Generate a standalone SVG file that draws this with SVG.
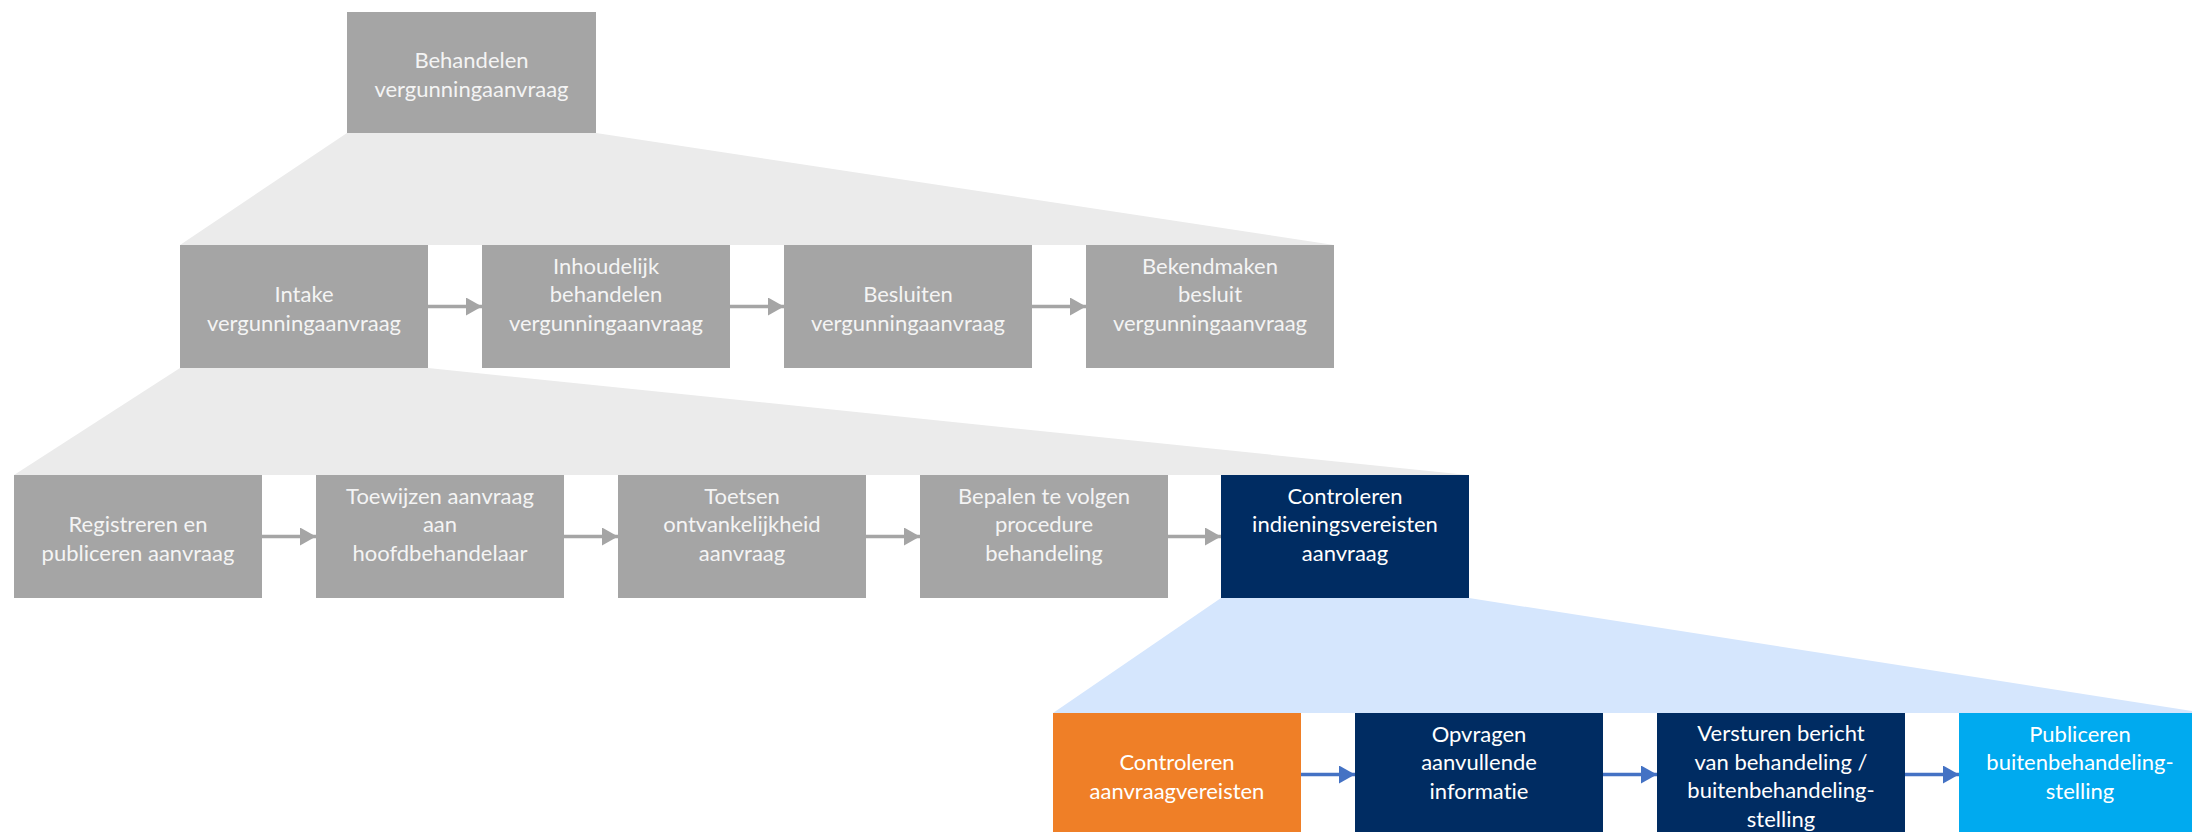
<svg xmlns="http://www.w3.org/2000/svg" width="2192" height="832" viewBox="0 0 2192 832">
<defs>
<style>
.g{fill:#A5A5A5}
.n{fill:#002C62}
.o{fill:#EF7F27}
.c{fill:#00AAEF}
.t{font-family:Lato,"Open Sans",sans-serif;font-size:22px;fill:#FFFFFF;text-anchor:middle;font-variant-ligatures:none}
.tg{fill:#F4F4F4}
.zg{fill:#EBEBEB}
.zb{fill:#D5E6FD}
.ag{stroke:#A5A5A5;stroke-width:3.5;fill:none}
.ab{stroke:#4472C4;stroke-width:3.5;fill:none}
</style>
<marker id="mg" markerUnits="userSpaceOnUse" markerWidth="16" markerHeight="18" refX="16" refY="9" orient="auto"><path d="M0,0 L16,9 L0,18 Z" fill="#A5A5A5"/></marker>
<marker id="mb" markerUnits="userSpaceOnUse" markerWidth="16" markerHeight="18" refX="16" refY="9" orient="auto"><path d="M0,0 L16,9 L0,18 Z" fill="#4472C4"/></marker>
</defs>
<rect width="2192" height="832" fill="#FFFFFF"/>
<g id="zoom-areas">
<polygon class="zg" points="347,133 596,133 1334,245 180,245"/>
<polygon class="zg" points="180,368 428,368 1468,475 14,475"/>
<polygon class="zb" points="1221,598 1469,598 2192,711 2192,713 1053,713"/>
</g>
<g id="n-behandelen"><rect class="g" x="347" y="12" width="249" height="121"/><text class="t tg"><tspan x="471.5" y="68">Behandelen</tspan><tspan x="471.5" y="96.5">vergunningaanvraag</tspan></text></g>
<g id="n-intake"><rect class="g" x="180" y="245" width="248" height="123"/><text class="t tg"><tspan x="304" y="302">Intake</tspan><tspan x="304" y="330.5">vergunningaanvraag</tspan></text></g>
<g id="n-inhoudelijk"><rect class="g" x="482" y="245" width="248" height="123"/><text class="t tg"><tspan x="606" y="273.5">Inhoudelijk</tspan><tspan x="606" y="302">behandelen</tspan><tspan x="606" y="330.5">vergunningaanvraag</tspan></text></g>
<g id="n-besluiten"><rect class="g" x="784" y="245" width="248" height="123"/><text class="t tg"><tspan x="908" y="302">Besluiten</tspan><tspan x="908" y="330.5">vergunningaanvraag</tspan></text></g>
<g id="n-bekendmaken"><rect class="g" x="1086" y="245" width="248" height="123"/><text class="t tg"><tspan x="1210" y="273.5">Bekendmaken</tspan><tspan x="1210" y="302">besluit</tspan><tspan x="1210" y="330.5">vergunningaanvraag</tspan></text></g>
<g id="n-registreren"><rect class="g" x="14" y="475" width="248" height="123"/><text class="t tg"><tspan x="138" y="532">Registreren en</tspan><tspan x="138" y="560.5">publiceren aanvraag</tspan></text></g>
<g id="n-toewijzen"><rect class="g" x="316" y="475" width="248" height="123"/><text class="t tg"><tspan x="440" y="503.5">Toewijzen aanvraag</tspan><tspan x="440" y="532">aan</tspan><tspan x="440" y="560.5">hoofdbehandelaar</tspan></text></g>
<g id="n-toetsen"><rect class="g" x="618" y="475" width="248" height="123"/><text class="t tg"><tspan x="742" y="503.5">Toetsen</tspan><tspan x="742" y="532">ontvankelijkheid</tspan><tspan x="742" y="560.5">aanvraag</tspan></text></g>
<g id="n-bepalen"><rect class="g" x="920" y="475" width="248" height="123"/><text class="t tg"><tspan x="1044" y="503.5">Bepalen te volgen</tspan><tspan x="1044" y="532">procedure</tspan><tspan x="1044" y="560.5">behandeling</tspan></text></g>
<g id="n-controleren-indiening"><rect class="n" x="1221" y="475" width="248" height="123"/><text class="t"><tspan x="1345" y="503.5">Controleren</tspan><tspan x="1345" y="532">indieningsvereisten</tspan><tspan x="1345" y="560.5">aanvraag</tspan></text></g>
<g id="n-controleren-aanvraag"><rect class="o" x="1053" y="713" width="248" height="123"/><text class="t"><tspan x="1177" y="770">Controleren</tspan><tspan x="1177" y="798.5">aanvraagvereisten</tspan></text></g>
<g id="n-opvragen"><rect class="n" x="1355" y="713" width="248" height="123"/><text class="t"><tspan x="1479" y="741.5">Opvragen</tspan><tspan x="1479" y="770">aanvullende</tspan><tspan x="1479" y="798.5">informatie</tspan></text></g>
<g id="n-versturen"><rect class="n" x="1657" y="713" width="248" height="123"/><text class="t"><tspan x="1781" y="741">Versturen bericht</tspan><tspan x="1781" y="769.5">van behandeling /</tspan><tspan x="1781" y="798">buitenbehandeling-</tspan><tspan x="1781" y="826.5">stelling</tspan></text></g>
<g id="n-publiceren"><rect class="c" x="1959" y="713" width="248" height="123"/><text class="t"><tspan x="2080" y="741.5">Publiceren</tspan><tspan x="2080" y="770">buitenbehandeling-</tspan><tspan x="2080" y="798.5">stelling</tspan></text></g>
<g id="connectors">
<line class="ag" x1="428" y1="306.5" x2="482" y2="306.5" marker-end="url(#mg)"/>
<line class="ag" x1="730" y1="306.5" x2="784" y2="306.5" marker-end="url(#mg)"/>
<line class="ag" x1="1032" y1="306.5" x2="1086" y2="306.5" marker-end="url(#mg)"/>
<line class="ag" x1="262" y1="536.5" x2="316" y2="536.5" marker-end="url(#mg)"/>
<line class="ag" x1="564" y1="536.5" x2="618" y2="536.5" marker-end="url(#mg)"/>
<line class="ag" x1="866" y1="536.5" x2="920" y2="536.5" marker-end="url(#mg)"/>
<line class="ag" x1="1168" y1="536.5" x2="1221" y2="536.5" marker-end="url(#mg)"/>
<line class="ab" x1="1301" y1="774.5" x2="1355" y2="774.5" marker-end="url(#mb)"/>
<line class="ab" x1="1603" y1="774.5" x2="1657" y2="774.5" marker-end="url(#mb)"/>
<line class="ab" x1="1905" y1="774.5" x2="1959" y2="774.5" marker-end="url(#mb)"/>
</g>
</svg>
